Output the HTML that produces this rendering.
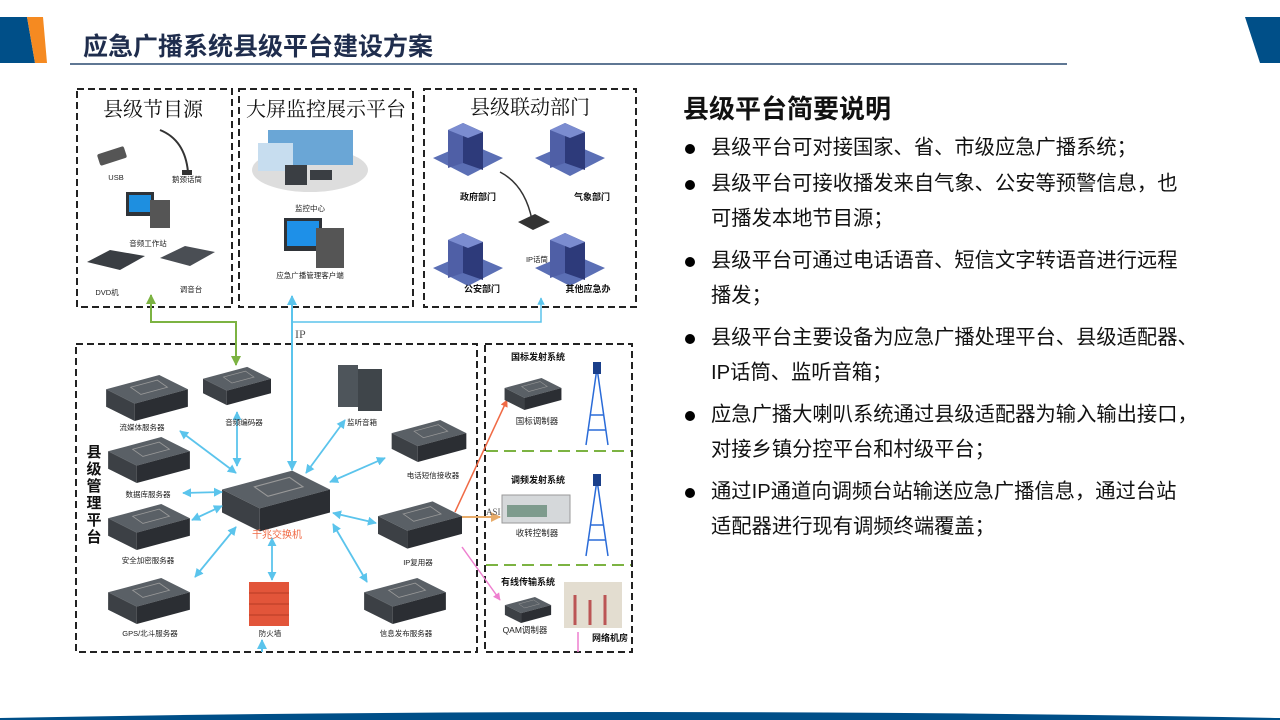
<!DOCTYPE html>
<html><head><meta charset="utf-8"><style>
html,body{margin:0;padding:0;background:#fff;width:1280px;height:720px;overflow:hidden;position:relative}
svg{position:absolute;left:0;top:0}
.t{font-family:"Liberation Sans","Noto Sans CJK SC",sans-serif}
.s{font-family:"Liberation Serif","Noto Serif CJK SC",serif}
#notes{position:absolute;left:683px;top:93px;font-family:"Liberation Sans","Noto Sans CJK SC",sans-serif;color:#111}
#notes h2{margin:0 0 6px 0;font-size:26px;font-weight:bold;line-height:32px}
#notes ul{margin:0;padding:0;list-style:none;width:528px}
#notes li{position:relative;padding-left:28px;font-size:20.3px;line-height:35.5px;margin-bottom:6px}
#notes li:first-child{margin-bottom:0}
#notes li:before{content:"";position:absolute;left:2px;top:13px;width:10px;height:10px;border-radius:50%;background:#000}
</style></head><body>
<svg width="1280" height="720" viewBox="0 0 1280 720">
<defs>
<symbol id="srv" viewBox="0 0 80 45">
<polygon points="0,14 52,0 80,14 28,28" fill="#5a6066"/>
<polygon points="0,14 28,28 28,45 0,31" fill="#3c4045"/>
<polygon points="28,28 80,14 80,31 28,45" fill="#2b2e33"/>
<polygon points="24,12 50,5 60,12 34,19" fill="none" stroke="#999" stroke-width="0.8"/>
</symbol>
<symbol id="bld" viewBox="0 0 70 60">
<polygon points="0,40 35,25 70,40 35,58" fill="#5b6fb5"/>
<polygon points="15,12 30,5 30,45 15,50" fill="#4f5fa6"/>
<polygon points="30,5 50,14 50,52 30,45" fill="#2d3a7a"/>
<polygon points="15,12 30,5 50,14 35,20" fill="#7b8cd0"/>
</symbol>
<marker id="ab" viewBox="0 0 10 10" refX="9" refY="5" markerWidth="5" markerHeight="5" orient="auto-start-reverse"><path d="M0,0 L10,5 L0,10 z" fill="#5bc4ec"/></marker>
<marker id="ag" viewBox="0 0 10 10" refX="9" refY="5" markerWidth="5" markerHeight="5" orient="auto-start-reverse"><path d="M0,0 L10,5 L0,10 z" fill="#7cb342"/></marker>
<marker id="ar" viewBox="0 0 10 10" refX="9" refY="5" markerWidth="5" markerHeight="5" orient="auto"><path d="M0,0 L10,5 L0,10 z" fill="#f06a45"/></marker>
<marker id="ao" viewBox="0 0 10 10" refX="9" refY="5" markerWidth="5" markerHeight="5" orient="auto"><path d="M0,0 L10,5 L0,10 z" fill="#e8ac6a"/></marker>
<marker id="ap" viewBox="0 0 10 10" refX="9" refY="5" markerWidth="5" markerHeight="5" orient="auto"><path d="M0,0 L10,5 L0,10 z" fill="#ee7fcf"/></marker>
</defs>
<polygon points="0,17 27,17 35,63 0,63" fill="#004f88"/>
<polygon points="27,17 43,17 47,63 35,63" fill="#f58a21"/>
<polygon points="1245,17 1280,17 1280,63 1260,63" fill="#004f88"/>
<text x="83" y="55" class="t" font-size="25" font-weight="bold" fill="#1f2d4d">应急广播系统县级平台建设方案</text>
<line x1="70" y1="64" x2="1067" y2="64" stroke="#2a4a70" stroke-width="1.5"/>
<path d="M0,720 L0,718 Q640,706 1280,718 L1280,720 Z" fill="#004f88"/>
<rect x="72" y="85" width="568" height="572" fill="#fff"/>
<g fill="none" stroke="#222" stroke-width="2" stroke-dasharray="7,4">
<rect x="77" y="89" width="155" height="218"/>
<rect x="239" y="89" width="174" height="218"/>
<rect x="424" y="89" width="212" height="218"/>
<rect x="76" y="344" width="401" height="308"/>
<rect x="485" y="344" width="147" height="308"/>
</g>
<g stroke="#7cb342" stroke-width="2" stroke-dasharray="12,6"><line x1="486" y1="451" x2="631" y2="451"/><line x1="486" y1="565" x2="631" y2="565"/></g>
<g class="s" font-size="20" fill="#111" text-anchor="middle">
<text x="153" y="116">县级节目源</text><text x="326" y="116">大屏监控展示平台</text><text x="530" y="114">县级联动部门</text>
</g>
<rect x="98" y="150" width="28" height="12" rx="2" fill="#555" transform="rotate(-18 112 156)"/>
<path d="M160,130 Q185,140 188,172" stroke="#333" stroke-width="2" fill="none"/><rect x="182" y="170" width="10" height="5" fill="#333"/>
<rect x="126" y="192" width="28" height="24" fill="#2f3338"/><rect x="129" y="195" width="22" height="17" fill="#1e8fe0"/>
<rect x="150" y="200" width="20" height="28" fill="#555"/>
<polygon points="87,262 110,250 145,256 120,270" fill="#3a3e43"/>
<polygon points="160,258 185,246 215,252 190,266" fill="#4a4e54"/>
<ellipse cx="310" cy="170" rx="58" ry="22" fill="#ddd"/>
<rect x="268" y="130" width="85" height="35" fill="#6aa6d6"/><rect x="258" y="143" width="35" height="28" fill="#c7ddef"/>
<rect x="285" y="165" width="22" height="20" fill="#3a3e43"/><rect x="310" y="170" width="22" height="10" fill="#3a3e43"/>
<rect x="284" y="218" width="38" height="33" fill="#2f3338"/><rect x="287" y="221" width="32" height="25" fill="#1e90e8"/>
<rect x="316" y="228" width="28" height="40" fill="#555"/>
<use href="#bld" x="433" y="118" width="70" height="60"/>
<use href="#bld" x="535" y="118" width="70" height="60"/>
<use href="#bld" x="433" y="228" width="70" height="60"/>
<use href="#bld" x="535" y="228" width="70" height="60"/>
<path d="M500,172 Q525,185 532,220" stroke="#333" stroke-width="1.5" fill="none"/>
<polygon points="518,222 535,214 550,222 533,230" fill="#333"/>
<g class="t" font-size="7.5" fill="#222" text-anchor="middle">
<text x="116" y="180">USB</text><text x="187" y="182">鹅颈话筒</text><text x="148" y="246">音频工作站</text>
<text x="107" y="295">DVD机</text><text x="191" y="292">调音台</text>
<text x="310" y="211">监控中心</text><text x="310" y="278">应急广播管理客户端</text>
<text x="537" y="262">IP话筒</text>
</g>
<g class="t" font-size="9" font-weight="bold" fill="#111" text-anchor="middle">
<text x="478" y="200">政府部门</text><text x="592" y="200">气象部门</text><text x="482" y="292">公安部门</text><text x="588" y="292">其他应急办</text>
</g>
<polyline points="151,295 151,322 236,322 236,365" fill="none" stroke="#7cb342" stroke-width="2" marker-start="url(#ag)" marker-end="url(#ag)"/>
<line x1="292" y1="296" x2="292" y2="470" stroke="#5bc4ec" stroke-width="2" marker-start="url(#ab)" marker-end="url(#ab)"/>
<polyline points="292,322 541,322 541,298" fill="none" stroke="#5bc4ec" stroke-width="1.5" marker-end="url(#ab)"/>
<text x="295" y="338" class="s" font-size="12" fill="#555">IP</text>
<use href="#srv" x="106" y="375" width="82" height="46"/>
<use href="#srv" x="203" y="364" width="68" height="44"/>
<rect x="338" y="365" width="20" height="42" fill="#4e555b"/><rect x="358" y="369" width="24" height="42" fill="#3f454a"/>
<use href="#srv" x="387" y="420" width="84" height="42"/>
<use href="#srv" x="108" y="437" width="82" height="46"/>
<use href="#srv" x="108" y="504" width="82" height="46"/>
<use href="#srv" x="108" y="578" width="82" height="46"/>
<use href="#srv" x="364" y="578" width="82" height="46"/>
<use href="#srv" x="378" y="500" width="84" height="50"/>
<use href="#srv" x="222" y="470" width="108" height="62"/>
<rect x="249" y="582" width="40" height="44" fill="#e2553a"/>
<g stroke="#b63a24" stroke-width="1"><line x1="249" y1="593" x2="289" y2="593"/><line x1="249" y1="604" x2="289" y2="604"/><line x1="249" y1="615" x2="289" y2="615"/></g>
<g stroke="#5bc4ec" stroke-width="1.8" marker-start="url(#ab)" marker-end="url(#ab)">
<line x1="180" y1="431" x2="236" y2="473"/>
<line x1="237" y1="412" x2="237" y2="466"/>
<line x1="345" y1="420" x2="306" y2="473"/>
<line x1="385" y1="458" x2="330" y2="482"/>
<line x1="183" y1="493" x2="222" y2="492"/>
<line x1="192" y1="520" x2="222" y2="506"/>
<line x1="195" y1="577" x2="236" y2="527"/>
<line x1="272" y1="580" x2="272" y2="538"/>
<line x1="333" y1="524" x2="367" y2="582"/>
<line x1="333" y1="513" x2="376" y2="523"/>
</g>
<line x1="262" y1="652" x2="262" y2="640" stroke="#5bc4ec" stroke-width="2" marker-end="url(#ab)"/>
<g class="t" font-size="7.5" fill="#222" text-anchor="middle">
<text x="142" y="430">流媒体服务器</text><text x="244" y="425">音频编码器</text><text x="362" y="425">监听音箱</text>
<text x="433" y="478">电话短信接收器</text><text x="148" y="497">数据库服务器</text><text x="148" y="563">安全加密服务器</text>
<text x="150" y="636">GPS/北斗服务器</text><text x="270" y="636">防火墙</text><text x="406" y="636">信息发布服务器</text>
<text x="418" y="565">IP复用器</text>
</g>
<text x="277" y="538" class="t" font-size="10" fill="#f06a45" text-anchor="middle">千兆交换机</text>
<g class="t" font-size="15" font-weight="bold" fill="#111" text-anchor="middle">
<text x="94" y="457">县</text><text x="94" y="474">级</text><text x="94" y="491">管</text><text x="94" y="508">理</text><text x="94" y="525">平</text><text x="94" y="542">台</text>
</g>
<line x1="455" y1="512" x2="507" y2="400" stroke="#f06a45" stroke-width="1.5" marker-end="url(#ar)"/>
<line x1="462" y1="517" x2="500" y2="517" stroke="#e8ac6a" stroke-width="2" marker-end="url(#ao)"/>
<line x1="462" y1="547" x2="500" y2="600" stroke="#ee7fcf" stroke-width="1.5" marker-end="url(#ap)"/>
<line x1="578" y1="632" x2="578" y2="652" stroke="#ee7fcf" stroke-width="1.5"/>
<text x="486" y="515" class="s" font-size="9" fill="#555">ASI</text>
<use href="#srv" x="502" y="378" width="62" height="32"/>
<rect x="502" y="495" width="68" height="28" fill="#d5d8da" stroke="#999"/><rect x="507" y="505" width="40" height="12" fill="#7e9b8d"/>
<use href="#srv" x="497" y="597" width="62" height="26"/>
<rect x="564" y="582" width="58" height="46" fill="#e3ddd0"/>
<g stroke="#b55" stroke-width="3"><line x1="575" y1="595" x2="575" y2="625"/><line x1="590" y1="600" x2="590" y2="625"/><line x1="605" y1="595" x2="605" y2="625"/></g>
<g stroke="#2a6bd8" stroke-width="1.5" fill="none">
<path d="M597,368 L586,445 M597,368 L608,445 M590,415 L604,415 M588,430 L606,430"/>
<path d="M597,480 L586,556 M597,480 L608,556 M590,525 L604,525 M588,540 L606,540"/>
</g>
<rect x="593" y="362" width="8" height="12" fill="#1a3f8a"/><rect x="593" y="474" width="8" height="12" fill="#1a3f8a"/>
<g class="t" font-size="9" font-weight="bold" fill="#111" text-anchor="middle">
<text x="538" y="360">国标发射系统</text><text x="538" y="483">调频发射系统</text><text x="528" y="585">有线传输系统</text><text x="610" y="641">网络机房</text>
</g>
<g class="t" font-size="8.5" fill="#222" text-anchor="middle">
<text x="537" y="424">国标调制器</text><text x="537" y="536">收转控制器</text><text x="525" y="633">QAM调制器</text>
</g>
</svg>
<div id="notes">
<h2>县级平台简要说明</h2>
<ul>
<li>县级平台可对接国家、省、市级应急广播系统；</li>
<li>县级平台可接收播发来自气象、公安等预警信息，也<br>可播发本地节目源；</li>
<li>县级平台可通过电话语音、短信文字转语音进行远程<br>播发；</li>
<li>县级平台主要设备为应急广播处理平台、县级适配器、<br>IP话筒、监听音箱；</li>
<li>应急广播大喇叭系统通过县级适配器为输入输出接口，<br>对接乡镇分控平台和村级平台；</li>
<li>通过IP通道向调频台站输送应急广播信息，通过台站<br>适配器进行现有调频终端覆盖；</li>
</ul>
</div>
</body></html>
